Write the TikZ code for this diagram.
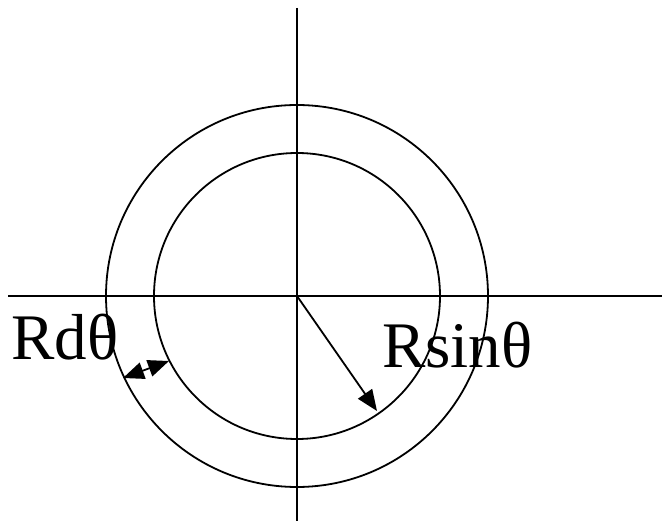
\documentclass[tikz,border=0pt]{standalone}
\usepackage{fontspec}
\setmainfont{Liberation Serif}
\usepackage{tikz}
\usetikzlibrary{positioning,calc}
\usetikzlibrary{arrows.meta}
\tikzset{
  axis/.style={draw=black,line width=1.8pt},
  ring/.style={draw=black,line width=1.8pt},
  arr/.style={draw=black,line width=1.8pt,-{Triangle[length=21pt,width=17pt]}},
  darr/.style={draw=black,line width=1.8pt,{Triangle[length=21pt,width=17pt]}-{Triangle[length=21pt,width=17pt]}},
}
\tikzset{lab/.style={inner sep=0pt,anchor=base west,font=\fontsize{65}{78}\selectfont}}

\begin{document}
\begin{tikzpicture}[x=1pt,y=-1pt]
\useasboundingbox (0,0) rectangle (662,521);
\coordinate (O) at (297,296);
\coordinate (xl) at (8,296);
\coordinate (xr) at (662,296);
\coordinate (yt) at (297,8);
\coordinate (yb) at (297,521);
\coordinate (d1) at (123,378);
\coordinate (d2) at (169,361);
\coordinate (r1) at (377,411);
\draw[axis] (xl) -- (xr);
\draw[axis] (yt) -- (yb);
\draw[ring] (O) circle[radius=191];
\draw[ring] (O) circle[radius=143];
\draw[arr] (O) -- (r1);
\draw[darr] (d1) -- (d2);
\node[lab] (rdt) at (11,360) {Rdθ};
\node[lab] (rst) at (382,368) {Rsinθ};
\end{tikzpicture}
\end{document}
